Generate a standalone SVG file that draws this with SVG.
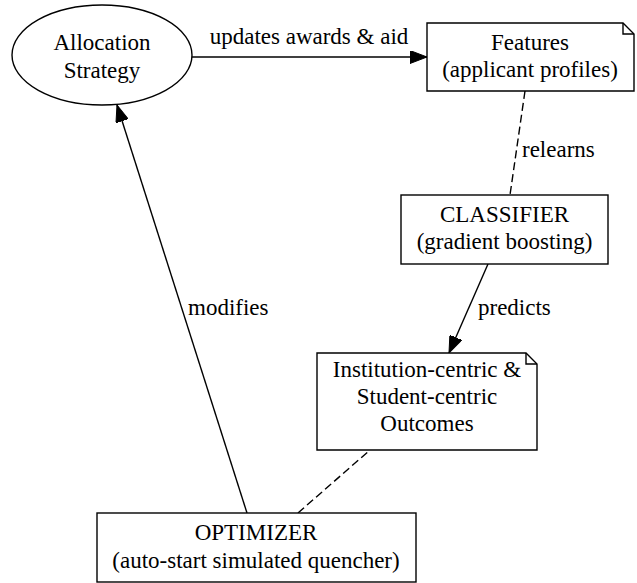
<svg xmlns="http://www.w3.org/2000/svg" width="637" height="583" viewBox="0 0 637 583" font-family="Liberation Serif, Times New Roman, serif" font-size="23">
<style>
.n{fill:#fff;stroke:#000;stroke-width:1.4}
.f{fill:none;stroke:#000;stroke-width:1.4}
.e{fill:none;stroke:#000;stroke-width:1.4}
.d{stroke-dasharray:8,4}
text{font-family:'Liberation Serif','Times New Roman',serif;font-size:23px;fill:#000}
.c{text-anchor:middle}
</style>
<defs>
<marker id="ah" markerUnits="userSpaceOnUse" markerWidth="18" markerHeight="13" refX="17" refY="6.5" orient="auto">
<path d="M0,0 L17,6.5 L0,13 z" fill="#000" stroke="#000" stroke-width="1"/>
</marker>
</defs>
<rect width="637" height="583" fill="#fff"/>
<g id="connectors">
<line class="e" x1="192" y1="57" x2="427" y2="57" marker-end="url(#ah)"/>
<text class="c" x="309" y="44">updates awards &amp; aid</text>
<line class="e d" x1="525" y1="91" x2="510" y2="195"/>
<text x="522" y="157">relearns</text>
<line class="e" x1="488" y1="264" x2="449" y2="353" marker-end="url(#ah)"/>
<text x="478" y="315">predicts</text>
<line class="e d" x1="298" y1="513" x2="370" y2="450"/>
<line class="e" x1="247" y1="513" x2="117" y2="105" marker-end="url(#ah)"/>
<text x="188" y="315">modifies</text>
</g>
<g id="allocation">
<ellipse class="n" cx="102" cy="55" rx="90" ry="50"/>
<text class="c" x="102" y="50">Allocation</text>
<text class="c" x="102" y="78">Strategy</text>
</g>
<g id="features">
<path class="n" d="M427,23 H623 L634,34 V91 H427 Z"/>
<path class="f" d="M623,23 V34 H634"/>
<text class="c" x="530" y="50">Features</text>
<text class="c" x="530" y="77">(applicant profiles)</text>
</g>
<g id="classifier">
<rect class="n" x="401" y="195" width="207" height="69"/>
<text class="c" x="504.5" y="222">CLASSIFIER</text>
<text class="c" x="504.5" y="249">(gradient boosting)</text>
</g>
<g id="outcomes">
<path class="n" d="M317,353 H526 L537,364 V450 H317 Z"/>
<path class="f" d="M526,353 V364 H537"/>
<text class="c" x="427" y="377">Institution-centric &amp;</text>
<text class="c" x="427" y="404">Student-centric</text>
<text class="c" x="427" y="431">Outcomes</text>
</g>
<g id="optimizer">
<rect class="n" x="97" y="513" width="319" height="69"/>
<text class="c" x="256" y="540">OPTIMIZER</text>
<text class="c" x="256" y="568">(auto-start simulated quencher)</text>
</g>
</svg>
